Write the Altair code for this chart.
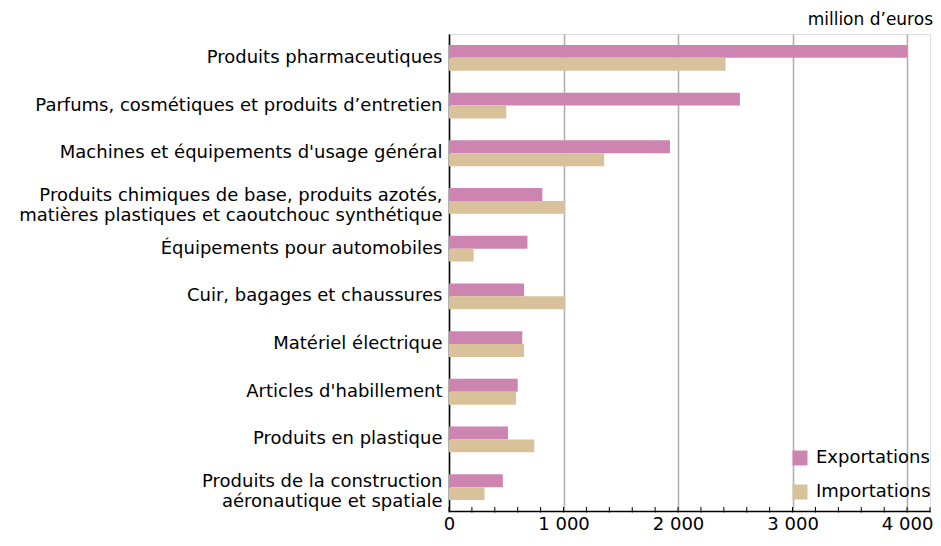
import altair as alt
import pandas as pd

categories = [
    "Produits pharmaceutiques",
    "Parfums, cosmétiques et produits d’entretien",
    "Machines et équipements d'usage général",
    "Produits chimiques de base, produits azotés,\nmatières plastiques et caoutchouc synthétique",
    "Équipements pour automobiles",
    "Cuir, bagages et chaussures",
    "Matériel électrique",
    "Articles d'habillement",
    "Produits en plastique",
    "Produits de la construction \naéronautique et spatiale",
]
exportations = [4000, 2540, 1930, 815, 685, 655, 640, 600, 515, 470]
importations = [2415, 500, 1355, 1015, 215, 1015, 655, 585, 745, 310]
series = ["Exportations", "Importations"]
colors = ["#CE84B0", "#D9C29A"]
major_ticks = [0, 1000, 2000, 3000, 4000]
minor_ticks = [0, 200, 400, 600, 800, 1000, 1200, 1400, 1600, 1800, 2000,
               2200, 2400, 2600, 2800, 3000, 3200, 3400, 3600, 3800, 4000, 4200]
unit_label = ["million d’euros"]

rows = []
for c, e, i in zip(categories, exportations, importations):
    rows.append({"category": c, "series": series[0], "value": e})
    rows.append({"category": c, "series": series[1], "value": i})
df = pd.DataFrame(rows)

W, H = 481, 477
FONT = "DejaVu Sans"

x_axis = alt.Axis(
    values=major_ticks,
    labelExpr="replace(format(datum.value, ','), ',', ' ')",
    ticks=False, grid=True, gridColor="#ADADAD", gridWidth=1.5,
    domainColor="black", domainWidth=1.5,
    labelFontSize=18, labelColor="black", labelPadding=4,
    labelFlush=False, title=None, labelFont=FONT,
)

bars = alt.Chart(df).mark_bar().encode(
    x=alt.X(
        "value:Q",
        scale=alt.Scale(domain=[0, 4200], nice=False, zero=True),
        axis=x_axis,
    ),
    y=alt.Y(
        "category:N", sort=categories,
        scale=alt.Scale(paddingInner=0.46, paddingOuter=0.23),
        axis=alt.Axis(
            title=None, ticks=False,
            labelExpr=r"split(datum.label, '\n')",
            labelFontSize=18, labelLimit=600, labelPadding=7,
            labelLineHeight=20, labelColor="black", labelFont=FONT,
            labelOffset={"condition": {"test": r"indexof(datum.label, '\n') >= 0",
                                       "value": -5},
                         "value": 0},
            domainColor="black", domainWidth=1.5,
        ),
    ),
    yOffset=alt.YOffset("series:N", sort=series,
                        scale=alt.Scale(paddingInner=0, paddingOuter=0)),
    color=alt.Color(
        "series:N",
        scale=alt.Scale(domain=series, range=colors),
        legend=alt.Legend(
            title=None, orient="none", legendX=342, legendY=415,
            symbolType="square", symbolSize=225, symbolStrokeWidth=0,
            symbolOpacity=1, labelFontSize=18, labelColor="black",
            labelFont=FONT, rowPadding=16, labelOffset=7, padding=0,
        ),
    ),
)

ticks = alt.Chart(pd.DataFrame({"value": minor_ticks})).mark_rule(
    color="black", strokeWidth=1
).encode(
    x=alt.X("value:Q"),
    y=alt.value(H - 4),
    y2=alt.value(H + 1.5),
)

unit = alt.Chart(pd.DataFrame({"u": unit_label})).mark_text(
    align="right", baseline="middle", fontSize=17, font=FONT, color="black"
).encode(
    text="u:N",
    x=alt.value(W + 3),
    y=alt.value(-14),
)

chart = alt.layer(bars, ticks, unit).properties(
    width=W, height=H,
    padding={"left": 441, "top": 26, "right": 3, "bottom": 21},
    autosize=alt.AutoSizeParams(type="none"),
).configure_view(
    stroke="black", strokeWidth=1.5
).configure(font=FONT)

chart.save("out.html", embed_options={"renderer": "svg", "actions": False})
